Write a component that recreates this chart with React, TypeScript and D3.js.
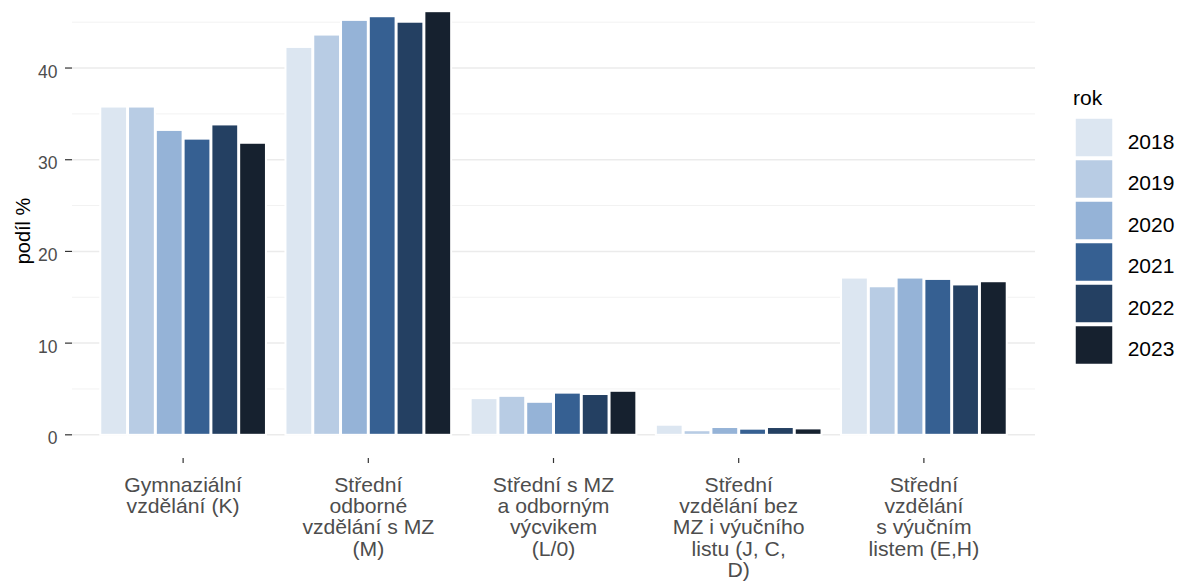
import * as d3 from "d3";

const categories = [
  ["Gymnaziální", "vzdělání (K)"],
  ["Střední", "odborné", "vzdělání s MZ", "(M)"],
  ["Střední s MZ", "a odborným", "výcvikem", "(L/0)"],
  ["Střední", "vzdělání bez", "MZ i výučního", "listu (J, C,", "D)"],
  ["Střední", "vzdělání", "s výučním", "listem (E,H)"],
];
const years = ["2018", "2019", "2020", "2021", "2022", "2023"];
const colors = ["#DCE6F1", "#B8CCE4", "#95B3D7", "#366092", "#244062", "#16212F"];

// share per category, one array per year
const v2018 = [35.8, 42.3, 4.0, 1.1, 17.15];
const v2019 = [35.8, 43.65, 4.25, 0.5, 16.2];
const v2020 = [33.25, 45.25, 3.6, 0.85, 17.15];
const v2021 = [32.3, 45.65, 4.6, 0.67, 17.0];
const v2022 = [33.85, 45.05, 4.45, 0.85, 16.4];
const v2023 = [31.85, 46.2, 4.8, 0.7, 16.75];
const series = [v2018, v2019, v2020, v2021, v2022, v2023];

const yTicks = [0, 10, 20, 30, 40];
const yMinor = [5, 15, 25, 35, 45];

const W = 1179;
const H = 583;
const left = 72;
const right = 1035;
const bottom = 456;
const top = -10;

export default function App() {
  const keys = categories.map((c) => c.join(" "));
  const x = d3.scaleBand().domain(keys).range([left, right]).paddingInner(0.1).paddingOuter(0.15);
  const xInner = d3.scaleBand().domain(years).range([0, x.bandwidth()]);
  const y = d3.scaleLinear().domain([-2.31, 48.51]).range([bottom, top]);
  const grey = "#4d4d4d";
  const font = "'Liberation Sans', Arial, sans-serif";

  return (
    <>
      <style>{`body{margin:0}`}</style>
      <svg width={W} height={H} style={{ display: "block", fontFamily: font }}>
        <rect width={W} height={H} fill="#fff" />
        {yMinor.map((t) => (
          <line key={"m" + t} x1={left} x2={right} y1={y(t)} y2={y(t)} stroke="#f2f2f2" strokeWidth={1} />
        ))}
        {yTicks.map((t) => (
          <line key={"g" + t} x1={left} x2={right} y1={y(t)} y2={y(t)} stroke="#ebebeb" strokeWidth={1.5} />
        ))}
        {keys.map((k, ci) =>
          years.map((yr, yi) => {
            const v = series[yi][ci];
            return (
              <rect
                key={k + yr}
                x={(x(k) as number) + (xInner(yr) as number) + 0.5}
                width={xInner.bandwidth() - 1}
                y={y(v)}
                height={y(0) - y(v)}
                fill={colors[yi]}
                stroke="#ffffff"
                strokeWidth={2}
              />
            );
          })
        )}
        {yTicks.map((t) => (
          <g key={"t" + t}>
            <line x1={left - 7} x2={left} y1={y(t)} y2={y(t)} stroke="#333" strokeWidth={1.2} />
            <text x={57.5} y={y(t) + 9.5} textAnchor="end" fontSize={17.5} fill={grey}>
              {t}
            </text>
          </g>
        ))}
        {categories.map((lines, ci) => {
          const cx = (x(keys[ci]) as number) + x.bandwidth() / 2;
          return (
            <g key={"x" + ci}>
              <line x1={cx} x2={cx} y1={bottom + 2} y2={bottom + 7} stroke="#333" strokeWidth={1.2} />
              <g transform={`translate(${cx},0) scale(1.06,1)`}>
                <text textAnchor="middle" fontSize={20} fill={grey}>
                  {lines.map((l, li) => (
                    <tspan key={li} x={0} y={492 + li * 21.2}>
                      {l}
                    </tspan>
                  ))}
                </text>
              </g>
            </g>
          );
        })}
        <text transform={`translate(30,231) rotate(-90)`} textAnchor="middle" fontSize={20} fill="#000">
          podíl %
        </text>
        <text x={1073} y={105} fontSize={21} fill="#000">
          rok
        </text>
        {years.map((yr, i) => (
          <g key={"l" + yr} transform={`translate(1075,${118 + i * 41.5})`}>
            <rect width={38} height={39} fill={colors[i]} stroke="#fff" strokeWidth={1.5} />
            <text x={52.7} y={30.5} fontSize={21} fill="#000">
              {yr}
            </text>
          </g>
        ))}
      </svg>
    </>
  );
}
